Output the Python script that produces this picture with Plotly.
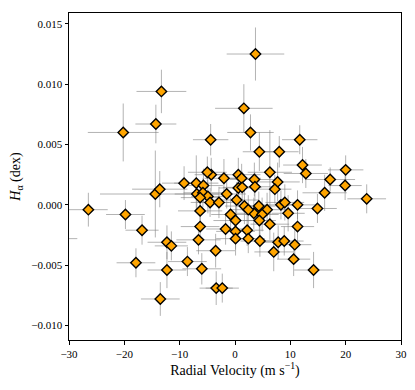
import plotly.graph_objects as go

# Radial velocity (m/s) and H-alpha index (dex) with uncertainties
rv = [-13.3, -14.3, -20.2, -4.4, 3.7, 1.6, 2.8, 11.7, 4.4, 8.0,
      12.2, 12.8, 20.0, 17.2, 0.6, 1.2, 3.5, 6.3, 7.7, 0.6,
      1.3, 3.6, 7.2, 16.2, 19.9, 23.8, 0.3, 1.7, 4.3, 5.8,
      8.3, 9.0, 11.3, 14.9, 9.6, -0.8, 3.4, 2.4, 4.9, 4.4,
      0.1, 6.3, 11.3, 0.1, 2.2, 0.1, 2.4, 4.5, 7.8, 8.9,
      10.8, 7.0, 10.6, 14.2, -26.5, -19.8, -16.8, -14.4, -13.6, -9.2,
      -7.0, -5.7, -6.9, -5.8, -4.9, -6.3, -4.5, -2.9, -1.5, -2.0,
      -4.3, -5.0, -6.3, -6.3, -1.7, -6.6, -12.3, -11.5, -3.5, -8.6,
      -17.9, -12.3, -6.0, -3.4, -2.3, -13.5, -35.0]
halpha = [0.0094, 0.0067, 0.0060, 0.0054, 0.0125, 0.0080, 0.0060, 0.0054, 0.0044, 0.0044,
          0.0033, 0.0026, 0.0029, 0.0021, 0.0025, 0.0022, 0.0021, 0.0027, 0.0019, 0.0014,
          0.00145, 0.0015, 0.0013, 0.0010, 0.0016, 0.0005, 0.0004, -0.0001, -0.0001, -0.0004,
          0.0000, 0.0002, 0.0000, -0.0003, -0.0007, -0.0008, -0.0007, -0.0004, -0.0008, -0.0013,
          -0.0013, -0.0016, -0.0018, -0.0022, -0.0021, -0.0028, -0.0028, -0.0030, -0.0031, -0.0030,
          -0.0033, -0.0039, -0.0045, -0.0054, -0.0004, -0.0008, -0.0021, 0.0009, 0.0013, 0.0018,
          0.0018, 0.0016, 0.0009, 0.0010, 0.0007, 0.0006, 0.0002, 0.0002, 0.0009, 0.0022,
          0.0025, 0.0027, -0.0005, -0.0018, -0.0020, -0.0029, -0.0031, -0.0034, -0.0038, -0.0047,
          -0.0048, -0.0054, -0.0053, -0.0069, -0.0069, -0.0078, -0.0028]
rv_err = [4.5, 3.7, 6.4, 3.2, 5.2, 5.2, 4.2, 3.2, 3.0, 3.5,
          3.5, 4.0, 3.2, 4.5, 4.0, 3.5, 4.5, 4.0, 4.0, 3.5,
          3.5, 3.5, 3.0, 4.0, 3.0, 3.5, 4.0, 3.5, 3.0, 3.5,
          3.0, 3.5, 3.5, 3.5, 3.0, 3.5, 3.0, 3.5, 3.0, 3.0,
          4.0, 3.5, 3.0, 3.5, 3.0, 3.5, 3.0, 3.5, 3.0, 3.5,
          3.0, 3.5, 3.0, 3.5, 3.5, 3.5, 3.0, 10.0, 5.0, 4.0,
          4.0, 3.5, 4.0, 3.5, 3.0, 3.5, 3.5, 3.0, 3.5, 3.5,
          3.0, 3.5, 4.0, 3.5, 3.5, 4.0, 3.5, 3.0, 3.5, 3.5,
          3.5, 3.5, 3.5, 3.0, 3.0, 3.5, 6.5]
halpha_err = [0.0018, 0.0016, 0.0024, 0.0013, 0.0022, 0.0020, 0.0015, 0.0012, 0.0016, 0.0013,
              0.0015, 0.0012, 0.0012, 0.0010, 0.0014, 0.0012, 0.0014, 0.0035, 0.0016, 0.0015,
              0.0013, 0.0012, 0.0012, 0.0015, 0.0012, 0.0012, 0.0015, 0.0015, 0.0012, 0.0014,
              0.0012, 0.0015, 0.0012, 0.0012, 0.0015, 0.0014, 0.0013, 0.0012, 0.0014, 0.0013,
              0.0015, 0.0013, 0.0012, 0.0015, 0.0013, 0.0014, 0.0012, 0.0013, 0.0014, 0.0012,
              0.0013, 0.0016, 0.0014, 0.0015, 0.0014, 0.0012, 0.0012, 0.0036, 0.0015, 0.0014,
              0.0023, 0.0014, 0.0013, 0.0012, 0.0014, 0.0013, 0.0012, 0.0013, 0.0012, 0.0016,
              0.0014, 0.0013, 0.0012, 0.0015, 0.0013, 0.0012, 0.0014, 0.0012, 0.0014, 0.0012,
              0.0012, 0.0015, 0.0013, 0.0014, 0.0012, 0.0014, 0.0010]

x_ticks = [-30, -20, -10, 0, 10, 20, 30]
y_ticks = [-0.010, -0.005, 0.000, 0.005, 0.010, 0.015]

font_family = "Liberation Serif, Times New Roman, serif"

fig = go.Figure()
fig.add_trace(go.Scatter(
    x=rv, y=halpha, mode="markers",
    marker=dict(symbol="diamond", size=8, color="#FFA500",
                line=dict(color="black", width=1.4)),
    error_x=dict(type="data", array=rv_err, color="rgba(128,128,128,0.6)",
                 thickness=1, width=0),
    error_y=dict(type="data", array=halpha_err, color="rgba(128,128,128,0.6)",
                 thickness=1, width=0),
    showlegend=False,
))

axis_common = dict(
    showline=True, linecolor="black", linewidth=1, mirror=True,
    ticks="outside", ticklen=3.5, tickwidth=0.8, tickcolor="black",
    showgrid=False, zeroline=False, automargin=False,
    tickfont=dict(family=font_family, size=11, color="black"),
)

# the page adds an 8 px body margin, so the figure is shrunk by that amount
fig.update_layout(
    width=407, height=382,
    margin=dict(l=61, r=14, t=5, b=50),
    plot_bgcolor="white", paper_bgcolor="white",
    font=dict(family=font_family, color="black"),
    xaxis=dict(range=[-30, 30], tickvals=x_ticks,
               ticktext=[str(v).replace("-", "\u2212") for v in x_ticks],
               title=dict(text="Radial Velocity (m s<sup>\u22121</sup>)",
                          font=dict(family=font_family, size=14), standoff=4),
               **axis_common),
    yaxis=dict(range=[-0.0112, 0.0159], tickvals=y_ticks, tickformat=".3f",
               title=dict(text="<i>H</i><sub>\u03b1</sub> (dex)",
                          font=dict(family=font_family, size=14), standoff=8),
               **axis_common),
)

fig.write_html("out.html")
